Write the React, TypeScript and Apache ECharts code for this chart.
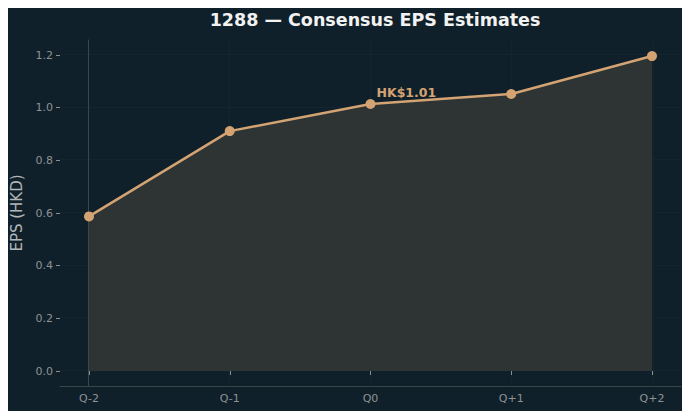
import React, { useEffect, useRef } from "react";
import * as echarts from "echarts";

const categories = ["Q-2", "Q-1", "Q0", "Q+1", "Q+2"];
const epsValues = [0.587, 0.911, 1.014, 1.052, 1.196];
const yTicks = [0, 0.2, 0.4, 0.6, 0.8, 1.0, 1.2];
const annotationIndex = 2;
const annotationText = "HK$1.01";
const titleText = "1288 \u2014 Consensus EPS Estimates";
const yAxisName = "EPS (HKD)";

const BG = "#10202a";
const LINE = "#d4a373";
const FONT = "DejaVu Sans";

export default function App() {
  const ref = useRef<HTMLDivElement>(null);
  useEffect(() => {
    if (!ref.current) return;
    const chart = echarts.init(ref.current, undefined, { renderer: "svg" });
    const gridMarks = [
      ...yTicks.map((v) => ({ yAxis: v })),
      ...categories.map((_, i) => ({ xAxis: i })),
    ];
    chart.setOption({
      animation: false,
      backgroundColor: BG,
      title: {
        text: titleText,
        left: 370,
        top: 6,
        textAlign: "center",
        textStyle: { color: "#f2f2f2", fontFamily: FONT, fontWeight: "bold", fontSize: 17.5 },
      },
      grid: [
        { left: 89, right: 38, top: 55, bottom: 48 },
        { left: 60, right: 9, top: 40, bottom: 33 },
      ],
      xAxis: [
        {
          type: "category",
          gridIndex: 0,
          data: categories,
          boundaryGap: false,
          offset: 15,
          axisLine: { show: false },
          axisTick: { show: true, alignWithLabel: true, length: 4, lineStyle: { color: "#8a8f91", width: 1 } },
          axisLabel: { color: "#8e9294", fontFamily: FONT, fontSize: 11, margin: 7 },
          splitLine: { show: false },
        },
        {
          type: "value",
          gridIndex: 1,
          min: -0.2,
          max: 4.2,
          axisLine: { show: true, onZero: false, lineStyle: { color: "#3c4547", width: 1 } },
          axisTick: { show: false },
          axisLabel: { show: false },
          splitLine: { show: false },
        },
      ],
      yAxis: [
        {
          type: "value",
          gridIndex: 0,
          min: 0,
          max: 1.2,
          interval: 0.2,
          offset: 29,
          name: yAxisName,
          nameLocation: "middle",
          nameGap: 34,
          nameTextStyle: { color: "#b3b6b8", fontFamily: FONT, fontSize: 15 },
          axisLine: { show: false },
          axisTick: { show: true, length: 4, lineStyle: { color: "#8a8f91", width: 1 } },
          axisLabel: {
            color: "#8e9294",
            fontFamily: FONT,
            fontSize: 11,
            margin: 7,
            formatter: (v: number) => v.toFixed(1),
          },
          splitLine: { show: false },
        },
        {
          type: "value",
          gridIndex: 1,
          min: -0.06,
          max: 1.255,
          axisLine: { show: true, lineStyle: { color: "#3c4547", width: 1 } },
          axisTick: { show: false },
          axisLabel: { show: false },
          splitLine: { show: false },
        },
      ],
      series: [
        {
          type: "line",
          xAxisIndex: 1,
          yAxisIndex: 1,
          data: [],
          z: 0,
          silent: true,
          markLine: {
            silent: true,
            z: 0,
            symbol: "none",
            label: { show: false },
            lineStyle: { color: "#16272f", width: 0.8, type: "solid" },
            data: gridMarks,
          },
        },
        {
          type: "line",
          xAxisIndex: 0,
          yAxisIndex: 0,
          z: 3,
          data: epsValues.map((v, i) =>
            i === annotationIndex
              ? {
                  value: v,
                  label: {
                    show: true,
                    formatter: annotationText,
                    position: [11, -13],
                    align: "left",
                    verticalAlign: "top",
                    color: LINE,
                    fontFamily: FONT,
                    fontWeight: "bold",
                    fontSize: 12.5,
                  },
                }
              : v
          ),
          symbol: "circle",
          symbolSize: 10,
          itemStyle: { color: LINE, borderWidth: 0 },
          lineStyle: { color: LINE, width: 2.5 },
          areaStyle: { color: "#2e3434", opacity: 1 },
        },
      ],
    });
    return () => chart.dispose();
  }, []);
  return (
    <div style={{ margin: -8 }}>
      <div ref={ref} style={{ width: 690, height: 419 }} />
    </div>
  );
}
